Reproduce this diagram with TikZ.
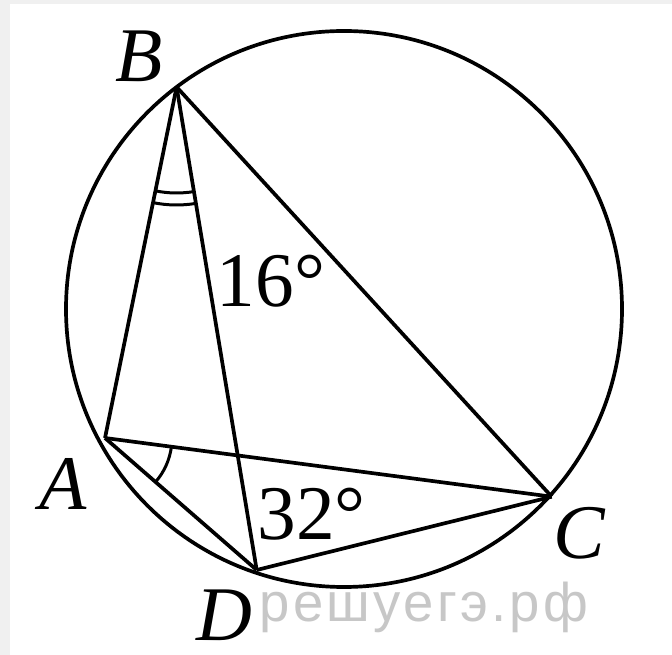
\documentclass[tikz,border=0pt]{standalone}
\usepackage{fontspec}
\setmainfont{Liberation Serif}
\newfontfamily\markfont[LetterSpace=6]{Liberation Sans}

\begin{document}
\begin{tikzpicture}[
        x=0.02cm, y=0.02cm,
        edge/.style={line width=2.1pt, line join=round},
        anglemark/.style={line width=1.7pt},
        vlabel/.style={font=\fontsize{44}{44}\selectfont\itshape, inner sep=0pt},
        degtext/.style={font=\fontsize{44}{44}\selectfont, inner sep=0pt}
    ]
        % page with a light frame on the left and top
        \fill[black!6] (0,0) rectangle (672,655);
        \fill[white] (10,0) rectangle (672,651);

        % circle and the four points on it
        \coordinate (O) at (344,346);
        \coordinate (B) at (176.6,568);
        \coordinate (A) at (105,217);
        \coordinate (C) at (551.7,158.3);
        \coordinate (D) at (256.7,85);

        \draw[edge] (O) circle (278);

        % chords
        \draw[edge] (A) -- (B);
        \draw[edge] (B) -- (C);
        \draw[edge] (B) -- (D);
        \draw[edge] (A) -- (C);
        \draw[edge] (A) -- (D);
        \draw[edge] (D) -- (C);

        % equal angle marks
        \draw[anglemark] (B) ++(258.5:106) arc[start angle=258.5, end angle=279.4, radius=106];
        \draw[anglemark] (B) ++(258.5:118) arc[start angle=258.5, end angle=279.4, radius=118];
        \draw[anglemark] (A) ++(-41:67) arc[start angle=-41, end angle=-7.5, radius=67];

        % labels
        \node[vlabel] (labB) at (139.3,598.6) {B};
        \node[vlabel] (labA) at (63.2,171.5) {A};
        \node[vlabel] (labC) at (579.5,121.6) {C};
        \node[vlabel] (labD) at (224,40) {D};
        \node[degtext] (ang16) at (271,374.3) {16°};
        \node[degtext] (ang32) at (311.6,141.2) {32°};

        % watermark
        \node[font=\fontsize{31}{31}\selectfont\markfont, text=black!22, inner sep=0pt, anchor=base] (wmark) at (424,33) {решуегэ.рф};
\end{tikzpicture}
\end{document}
